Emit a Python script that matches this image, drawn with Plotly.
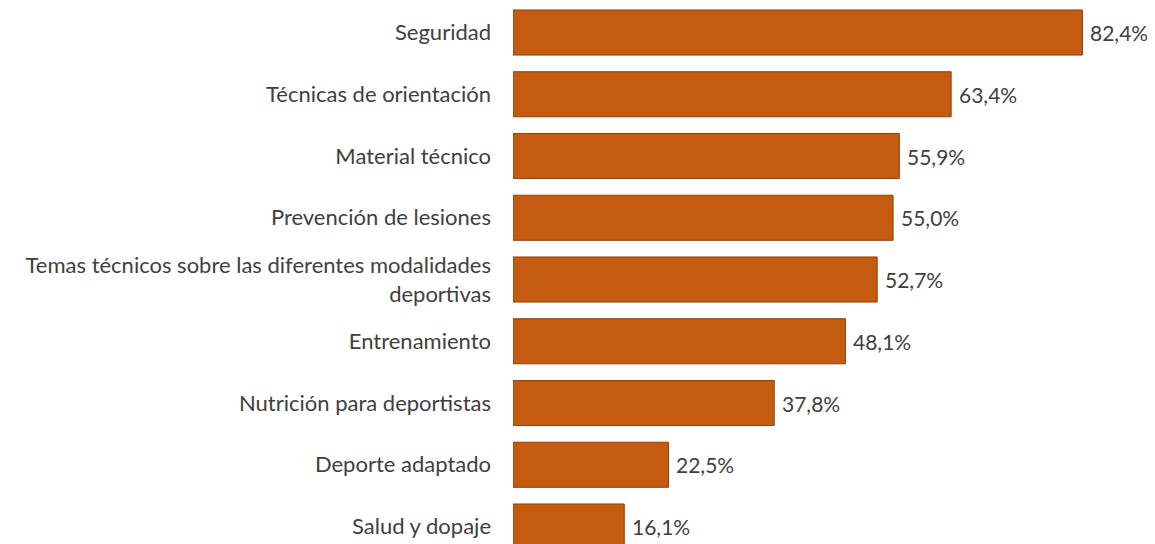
import plotly.graph_objects as go

categories = [
    "Seguridad",
    "Técnicas de orientación",
    "Material técnico",
    "Prevención de lesiones",
    "Temas técnicos sobre las diferentes modalidades<br>deportivas",
    "Entrenamiento",
    "Nutrición para deportistas",
    "Deporte adaptado",
    "Salud y dopaje",
]
values = [82.4, 63.4, 55.9, 55.0, 52.7, 48.1, 37.8, 22.5, 16.1]
value_labels = ["82,4%", "63,4%", "55,9%", "55,0%", "52,7%", "48,1%", "37,8%", "22,5%", "16,1%"]

positions = list(range(len(categories)))
FONT = "Lato"
TXT = "#404040"
FS = 22

fig = go.Figure()
fig.add_trace(go.Bar(
    x=values,
    y=positions,
    orientation="h",
    width=0.73,
    marker=dict(color="#C55A11", line=dict(color="#8E400E", width=1)),
    hoverinfo="skip",
))
for v, p, t in zip(values, positions, value_labels):
    fig.add_annotation(x=v, y=p, text=t, xanchor="left", yanchor="middle",
                       xshift=6, showarrow=False,
                       font=dict(family=FONT, size=21, color=TXT))

fig.update_layout(
    width=1147, height=536,
    margin=dict(l=505, r=0, t=0, b=0),
    paper_bgcolor="white", plot_bgcolor="white",
    showlegend=False,
    font=dict(family=FONT, size=FS, color=TXT),
    xaxis=dict(range=[0, 92.9], visible=False, fixedrange=True),
    yaxis=dict(
        range=[8.283, -0.397],
        tickmode="array", tickvals=positions, ticktext=categories,
        showgrid=False, zeroline=False, showline=False,
        ticks="", ticklabelstandoff=21,
        tickfont=dict(family=FONT, size=FS, color=TXT),
        fixedrange=True,
    ),
)

fig.write_html("out.html")
